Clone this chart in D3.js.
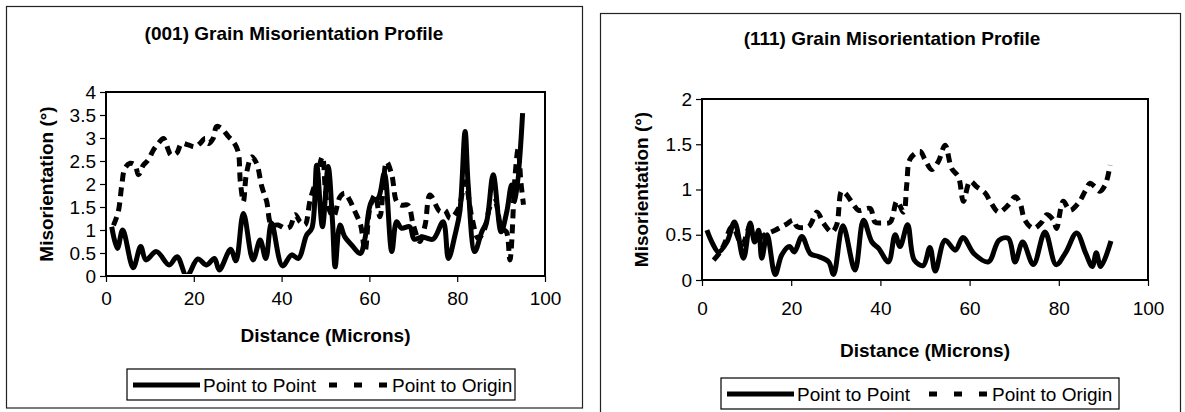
<!DOCTYPE html>
<html>
<head>
<meta charset="utf-8">
<script src="https://cdn.jsdelivr.net/npm/d3@7"></script>
<style>
  body { margin: 0; background: #fff; }
  svg text { font-family: Arial, "Liberation Sans", sans-serif; fill: #000; }
</style>
</head>
<body>
<svg id="chart" width="1185" height="412"></svg>
<script>
// (001) grain - distance (microns) and misorientation (deg)
var p2pX001 = [1.3,2.6,3.8,6.2,7.9,9.1,11.5,14.4,16.2,18.4,20.9,22.9,24.7,25.8,28.4,29.6,31.3,33.5,35.1,36.4,37.7,40.2,42.3,43.8,45.7,46.9,48.0,49.3,50.6,51.6,52.2,53.3,54.4,56.0,57.9,59.0,60.5,62.0,63.4,65.1,66.2,67.3,69.2,70.2,72.0,74.5,76.8,78.0,79.5,80.6,81.8,82.5,84.0,85.6,86.7,88.2,90.0,91.3,92.4,93.2,94.9];
var p2pY001 = [1.07,0.6,1.0,0.18,0.64,0.35,0.53,0.24,0.42,0.0,0.37,0.24,0.38,0.13,0.58,0.33,1.36,0.35,0.78,0.38,1.15,0.22,0.46,0.38,0.89,1.04,2.41,1.07,2.38,1.18,0.2,1.11,0.85,0.67,0.49,0.82,1.62,1.69,2.23,0.53,1.18,1.04,1.07,0.8,0.85,0.8,1.18,0.38,0.89,1.4,3.14,1.98,0.53,0.96,1.18,2.2,0.96,1.4,1.98,1.62,3.54];
var p2oX001 = [1.7,2.8,3.6,4.3,5.5,6.6,7.4,8.5,9.6,10.8,11.9,13.1,14.2,14.8,16.1,17.2,18.7,20.3,21.4,22.6,23.3,24.4,25.2,26.3,27.9,29.0,30.1,30.6,31.3,32.0,33.2,34.3,35.5,36.6,37.7,39.2,40.8,41.9,43.1,44.2,45.3,46.5,48.0,49.3,50.3,51.8,53.3,54.4,55.5,56.7,58.0,59.0,60.1,61.3,62.4,63.9,65.1,66.2,67.3,68.8,70.0,71.5,72.7,73.8,76.1,77.2,78.4,80.3,81.8,83.3,84.8,86.3,87.5,88.6,90.1,91.2,92.0,93.2,93.9,94.5,95.1];
var p2oY001 = [1.1,1.4,1.98,2.34,2.45,2.41,2.2,2.41,2.52,2.74,2.88,2.99,2.74,2.63,2.67,2.88,2.85,2.81,2.88,2.99,2.88,2.99,3.25,3.21,3.03,2.92,2.7,2.05,1.62,2.23,2.59,2.45,1.94,1.62,1.11,1.11,1.04,1.07,1.33,1.18,1.11,1.65,2.12,2.59,1.62,1.29,1.72,1.8,1.65,1.4,1.11,0.53,1.47,1.76,1.29,2.48,2.2,1.62,1.54,1.54,1.11,0.75,1.11,1.76,1.4,1.43,1.25,1.47,2.05,1.29,0.82,1.04,1.51,1.62,1.04,0.96,0.35,2.2,2.77,2.05,1.55];

// (111) grain
var p2pX111 = [1.1,2.4,3.7,5.6,7.3,9.3,10.8,11.8,12.7,13.4,14.6,16.4,17.9,19.6,20.7,22.4,24.3,26.1,28.4,29.5,31.6,34.3,36.2,38.1,39.6,41.8,43.3,44.4,46.1,47.6,49.6,51.1,52.3,54.5,56.8,58.5,61.0,64.2,66.6,68.7,70.2,71.9,74.3,76.9,79.4,81.5,84.0,86.0,87.5,88.4,89.4,91.7];
var p2pY111 = [0.55,0.4,0.31,0.42,0.64,0.24,0.63,0.42,0.55,0.24,0.5,0.06,0.28,0.37,0.31,0.48,0.29,0.26,0.2,0.06,0.6,0.11,0.66,0.42,0.35,0.2,0.5,0.37,0.61,0.22,0.16,0.36,0.1,0.44,0.33,0.47,0.29,0.2,0.44,0.46,0.2,0.42,0.17,0.53,0.17,0.3,0.52,0.3,0.15,0.3,0.15,0.43];
var p2oX111 = [2.6,4.1,5.2,6.3,6.9,9.0,10.8,12.3,13.4,16.4,18.7,20.5,21.3,23.9,25.8,27.2,29.1,30.2,31.3,32.1,34.0,35.1,37.7,38.8,40.3,42.2,43.7,45.2,45.9,46.7,48.9,50.0,51.5,53.0,54.5,56.0,57.5,58.6,60.1,61.6,63.5,64.6,66.5,68.7,70.2,71.3,72.4,74.3,76.2,77.3,78.8,79.5,81.0,82.5,84.4,85.9,87.0,88.1,89.2,90.4,91.5];
var p2oY111 = [0.22,0.31,0.42,0.57,0.59,0.39,0.6,0.4,0.48,0.55,0.61,0.66,0.59,0.59,0.75,0.63,0.53,0.61,0.98,0.96,0.83,0.77,0.79,0.64,0.63,0.64,0.87,0.75,1.05,1.34,1.42,1.33,1.22,1.31,1.49,1.23,1.14,0.87,1.09,1.03,0.96,0.87,0.75,0.83,0.92,0.85,0.66,0.57,0.64,0.72,0.66,0.57,0.87,0.77,0.85,0.98,1.07,1.03,0.98,1.05,1.27];

var xTicks = [0, 20, 40, 60, 80, 100];
var yTicks001 = [0, 0.5, 1, 1.5, 2, 2.5, 3, 3.5, 4];
var yTicks111 = [0, 0.5, 1, 1.5, 2];
var seriesNames = ["Point to Point", "Point to Origin"];

var svg = d3.select("#chart");
var font = 19;

function drawChart(c) {
  var g = svg.append("g");

  // outer chart frame
  g.append("rect")
    .attr("x", c.frame[0]).attr("y", c.frame[1])
    .attr("width", c.frame[2]).attr("height", c.frame[3])
    .attr("fill", "#fff").attr("stroke", "#222").attr("stroke-width", 1.2);

  var x = d3.scaleLinear().domain([0, 100]).range([c.left, c.right]);
  var y = d3.scaleLinear().domain([0, c.yMax]).range([c.bottom, c.top]);

  g.append("text")
    .attr("x", c.titleX).attr("y", c.titleY)
    .attr("text-anchor", "middle")
    .style("font-size", font + "px").style("font-weight", "bold")
    .text(c.title);

  var xAxis = g.append("g")
    .attr("transform", "translate(0," + c.bottom + ")")
    .call(d3.axisBottom(x).tickValues(xTicks).tickSize(6).tickPadding(c.xPad).tickFormat(d3.format("")));
  var yAxis = g.append("g")
    .attr("transform", "translate(" + c.left + ",0)")
    .call(d3.axisLeft(y).tickValues(c.yTicks).tickSize(6).tickPadding(4).tickFormat(d3.format("")));
  [xAxis, yAxis].forEach(function(a) {
    a.select(".domain").remove();
    a.selectAll("line").attr("stroke", "#000").attr("stroke-width", 1.2);
    a.selectAll("text").style("font-size", font + "px").style("font-family", "Arial, 'Liberation Sans', sans-serif");
  });

  // axis titles
  g.append("text")
    .attr("x", (c.left + c.right) / 2).attr("y", c.xTitleY)
    .attr("text-anchor", "middle")
    .style("font-size", font + "px").style("font-weight", "bold")
    .text("Distance (Microns)");
  g.append("text")
    .attr("transform", "translate(" + c.yTitleX + "," + (c.top + c.bottom) / 2 + ") rotate(-90)")
    .attr("text-anchor", "middle")
    .style("font-size", font + "px").style("font-weight", "bold")
    .text("Misorientation (\u00B0)");

  var clipId = "clip" + c.id;
  g.append("clipPath").attr("id", clipId).append("rect")
    .attr("x", c.left).attr("y", c.top - 4)
    .attr("width", c.right - c.left).attr("height", c.bottom - c.top + 2);

  var line = d3.line()
    .x(function(d) { return x(d[0]); })
    .y(function(d) { return y(d[1]); })
    .curve(d3.curveCatmullRom.alpha(0.5));

  g.append("path")
    .datum(d3.zip(c.p2oX, c.p2oY))
    .attr("clip-path", "url(#" + clipId + ")")
    .attr("fill", "none").attr("stroke", "#000")
    .attr("stroke-width", 5).attr("stroke-dasharray", "9,6")
    .attr("d", line);

  g.append("path")
    .datum(d3.zip(c.p2pX, c.p2pY))
    .attr("clip-path", "url(#" + clipId + ")")
    .attr("fill", "none").attr("stroke", "#000")
    .attr("stroke-width", 5).attr("stroke-linejoin", "round")
    .attr("d", line);

  // plot area border
  g.append("rect")
    .attr("x", c.left).attr("y", c.top)
    .attr("width", c.right - c.left).attr("height", c.bottom - c.top)
    .attr("fill", "none").attr("stroke", "#000").attr("stroke-width", 2);

  // legend
  var lg = g.append("g").attr("transform", "translate(" + c.legend[0] + "," + c.legend[1] + ")");
  lg.append("rect")
    .attr("width", c.legend[2]).attr("height", 31)
    .attr("fill", "#fff").attr("stroke", "#000").attr("stroke-width", 1.2);
  lg.append("line")
    .attr("x1", 6).attr("x2", 73).attr("y1", 16).attr("y2", 16)
    .attr("stroke", "#000").attr("stroke-width", 5);
  lg.append("text")
    .attr("x", 76).attr("y", 23)
    .style("font-size", font + "px")
    .text(seriesNames[0]);
  lg.append("line")
    .attr("x1", c.dashStart).attr("x2", c.dashStart + 60).attr("y1", 16).attr("y2", 16)
    .attr("stroke", "#000").attr("stroke-width", 5).attr("stroke-dasharray", "8,17");
  lg.append("text")
    .attr("x", c.dashStart + 63).attr("y", 23)
    .style("font-size", font + "px")
    .text(seriesNames[1]);
}

drawChart({
  id: "001", title: "(001) Grain Misorientation Profile",
  frame: [6.5, 6.5, 576, 401.5],
  left: 106, right: 545, top: 92, bottom: 276, yMax: 4, yTicks: yTicks001,
  titleX: 294, titleY: 40, xPad: 10, xTitleY: 342, yTitleX: 53,
  legend: [127, 369, 388], dashStart: 202,
  p2pX: p2pX001, p2pY: p2pY001, p2oX: p2oX001, p2oY: p2oY001
});

drawChart({
  id: "111", title: "(111) Grain Misorientation Profile",
  frame: [600.5, 13.5, 580, 410],
  left: 702, right: 1148, top: 99, bottom: 280, yMax: 2, yTicks: yTicks111,
  titleX: 892, titleY: 45, xPad: 16, xTitleY: 357, yTitleX: 648,
  legend: [721, 378, 398], dashStart: 208,
  p2pX: p2pX111, p2pY: p2pY111, p2oX: p2oX111, p2oY: p2oY111
});
</script>
</body>
</html>
